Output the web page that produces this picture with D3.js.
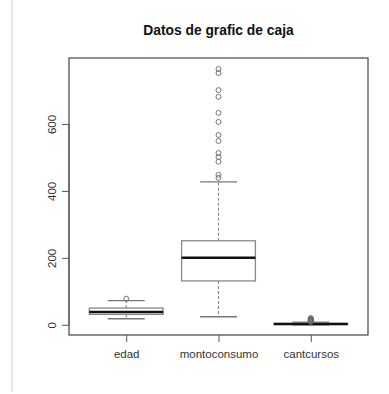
<!DOCTYPE html>
<html><head><meta charset="utf-8">
<script src="https://cdn.jsdelivr.net/npm/d3@7"></script>
<style>body{margin:0;background:#fff;} svg{display:block;}</style>
</head><body>
<svg id="c" width="389" height="394"></svg>
<script>
const title = "Datos de grafic de caja";
const categories = ["edad", "montoconsumo", "cantcursos"];
const lowerWhisker = [18, 24, 0];
const q1 = [31, 131, 1];
const medians = [38, 200, 2];
const q3 = [50, 251, 4];
const upperWhisker = [72, 427, 8];
const outliers = [
  [78],
  [439, 448, 487, 501, 513, 549, 567, 606, 633, 681, 701, 752, 764],
  [9, 10, 11, 12, 13, 14, 15, 16, 18, 20]
];
const yTicks = [0, 200, 400, 600];

const svg = d3.select("#c");
const L = 69, R = 368, T = 58, B = 335;

// faint page edge line
svg.append("line").attr("x1", 12).attr("x2", 12).attr("y1", 0).attr("y2", 392)
  .attr("stroke", "#e6e6e6").attr("stroke-width", 2);

const yMin = -30.5, yMax = 797;
const y = d3.scaleLinear().domain([yMin, yMax]).range([B, T]);
const x = d3.scaleLinear().domain([0.38, 3.62]).range([L, R]);
const bw = 0.8 * (x(1) - x(0));

// frame
svg.append("rect").attr("x", L).attr("y", T).attr("width", R - L).attr("height", B - T)
  .attr("fill", "none").attr("stroke", "#444").attr("stroke-width", 1.2);

// y axis
const yAxis = d3.axisLeft(y).tickValues(yTicks).tickSize(7).tickFormat(d3.format("d"));
const ga = svg.append("g").attr("transform", `translate(${L},0)`).call(yAxis);
ga.select(".domain").remove();
ga.append("line").attr("x1", 0).attr("x2", 0).attr("y1", y(0)).attr("y2", y(600)).attr("stroke", "#555");
ga.selectAll(".tick line").attr("stroke", "#555");
ga.selectAll(".tick text")
  .attr("x", 0).attr("y", 0).attr("dy", "0.35em")
  .attr("text-anchor", "middle")
  .attr("transform", "translate(-17,0) rotate(-90)")
  .attr("font-family", "Liberation Sans, Arial, sans-serif").attr("font-size", 11.5).attr("fill", "#333");

// x axis
const xAxis = d3.axisBottom(x).tickValues([1, 2, 3]).tickSize(7).tickPadding(8).tickFormat((d) => categories[d - 1]);
const gx = svg.append("g").attr("transform", `translate(0,${B})`).call(xAxis);
gx.select(".domain").remove();
gx.selectAll(".tick line").attr("stroke", "#555");
gx.selectAll(".tick text").attr("font-family", "Liberation Sans, Arial, sans-serif").attr("font-size", 11.5).attr("fill", "#333");

// boxes
categories.forEach((c, i) => {
  const cx = x(i + 1);
  const g = svg.append("g");
  g.append("line").attr("x1", cx).attr("x2", cx).attr("y1", y(q3[i])).attr("y2", y(upperWhisker[i]))
    .attr("stroke", "#888").attr("stroke-dasharray", "3,2").attr("stroke-width", 1.1);
  g.append("line").attr("x1", cx).attr("x2", cx).attr("y1", y(q1[i])).attr("y2", y(lowerWhisker[i]))
    .attr("stroke", "#888").attr("stroke-dasharray", "3,2").attr("stroke-width", 1.1);
  [upperWhisker[i], lowerWhisker[i]].forEach(v => {
    g.append("line").attr("x1", cx - bw / 4).attr("x2", cx + bw / 4).attr("y1", y(v)).attr("y2", y(v))
      .attr("stroke", "#777").attr("stroke-width", 1.3);
  });
  g.append("rect").attr("x", cx - bw / 2).attr("width", bw)
    .attr("y", y(q3[i])).attr("height", y(q1[i]) - y(q3[i]))
    .attr("fill", "#fff").attr("stroke", "#888").attr("stroke-width", 1.3);
  g.append("line").attr("x1", cx - bw / 2).attr("x2", cx + bw / 2).attr("y1", y(medians[i])).attr("y2", y(medians[i]))
    .attr("stroke", "#111").attr("stroke-width", 2.5);
  g.selectAll("circle").data(outliers[i]).join("circle")
    .attr("cx", cx).attr("cy", d => y(d)).attr("r", 2.5)
    .attr("fill", "none").attr("stroke", "#666").attr("stroke-width", 0.9);
});

// title
svg.append("text").attr("x", (L + R) / 2).attr("y", 35).attr("text-anchor", "middle")
  .attr("font-family", "Liberation Sans, Arial, sans-serif").attr("font-weight", "bold")
  .attr("font-size", 13.8).attr("fill", "#111").text(title);
</script>
</body></html>
